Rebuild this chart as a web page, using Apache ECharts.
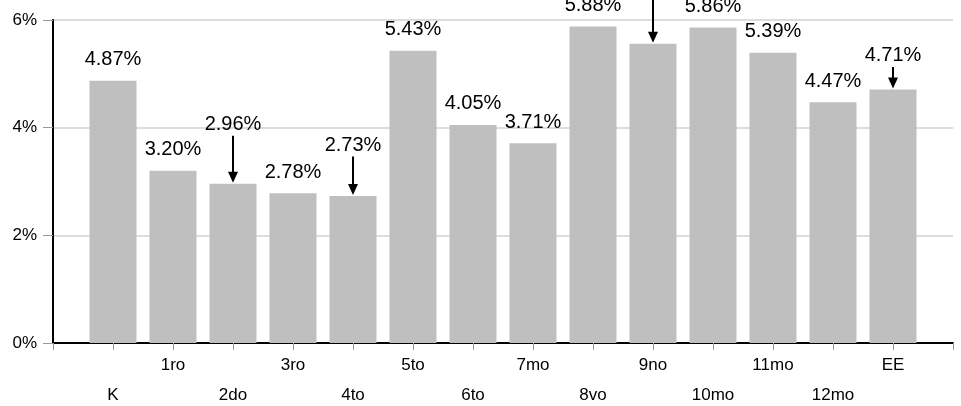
<!DOCTYPE html>
<html>
<head>
<meta charset="utf-8">
<script src="https://cdn.jsdelivr.net/npm/echarts@6/dist/echarts.min.js"></script>
<style>
html,body{margin:0;padding:0;background:#fff;}
#c{width:961px;height:406px;}
</style>
</head>
<body>
<div id="c"></div>
<script>
const categories = ['K','1ro','2do','3ro','4to','5to','6to','7mo','8vo','9no','10mo','11mo','12mo','EE'];
const values = [4.87, 3.20, 2.96, 2.78, 2.73, 5.43, 4.05, 3.71, 5.88, 5.56, 5.86, 5.39, 4.47, 4.71];
const yTicks = [0, 2, 4, 6];
// categories whose label is lifted and pointed to with an arrow
const arrowed = ['2do', '4to', '9no', 'EE'];
// style: label lift (px) for arrowed bars
const liftPx = {'2do': 49, '4to': 40.5, '9no': 56, 'EE': 23.5};

const FONT = '"Liberation Sans", Arial, Helvetica, sans-serif';
const axisCats = [''].concat(categories, ['']);

const barData = ['-'].concat(values.map((v, i) => {
  const c = categories[i];
  if (arrowed.indexOf(c) >= 0) {
    return {value: v, label: {distance: liftPx[c]}};
  }
  return v;
}), ['-']);

const arrowData = [];
categories.forEach((c, i) => {
  if (arrowed.indexOf(c) >= 0) arrowData.push([i + 1, values[i], liftPx[c]]);
});

const chart = echarts.init(document.getElementById('c'), null, {renderer: 'canvas'});
chart.setOption({
  animation: false,
  grid: {left: 53, right: 8, top: 20, bottom: 63, containLabel: false, outerBoundsMode: 'none'},
  xAxis: {
    type: 'category',
    data: axisCats,
    boundaryGap: false,
    axisLine: {lineStyle: {color: '#000', width: 2}},
    axisTick: {show: true, interval: 0, length: 7, lineStyle: {color: '#999', width: 1}},
    axisLabel: {
      interval: 0,
      margin: 7,
      color: '#000',
      fontSize: 17,
      fontFamily: FONT,
      lineHeight: 30,
      formatter: function (v, idx) {
        if (!v) return '';
        return idx % 2 === 1 ? '\n' + v : v;
      }
    },
    splitLine: {show: false}
  },
  yAxis: {
    type: 'value',
    min: yTicks[0],
    max: yTicks[yTicks.length - 1],
    interval: yTicks[1] - yTicks[0],
    axisLine: {show: true, lineStyle: {color: '#000', width: 2}},
    axisTick: {show: true, length: 10, lineStyle: {color: '#999', width: 1}},
    axisLabel: {
      margin: 16,
      color: '#000',
      fontSize: 17,
      fontFamily: FONT,
      formatter: '{value}%'
    },
    splitLine: {show: true, lineStyle: {color: '#dddddd', width: 2}}
  },
  series: [
    {
      type: 'bar',
      data: barData,
      barWidth: 47,
      itemStyle: {color: '#bfbfbf'},
      label: {
        show: true,
        position: 'top',
        distance: 11,
        color: '#000',
        fontSize: 20,
        fontFamily: FONT,
        formatter: function (p) { return p.value.toFixed(2) + '%'; }
      },
      z: 2
    },
    {
      type: 'custom',
      clip: false,
      z: 5,
      data: arrowData,
      renderItem: function (params, api) {
        const top = api.coord([api.value(0), api.value(1)]);
        const lift = api.value(2);
        const x = top[0];
        const yTip = top[1] - 1;
        const yStart = top[1] - lift + 1;
        const head = 11, hw = 5;
        return {
          type: 'group',
          children: [
            {type: 'line', shape: {x1: x, y1: yStart, x2: x, y2: yTip - head + 1},
             style: {stroke: '#000', lineWidth: 2}},
            {type: 'polygon', shape: {points: [[x - hw, yTip - head], [x + hw, yTip - head], [x, yTip]]},
             style: {fill: '#000'}}
          ]
        };
      }
    }
  ]
});
</script>
</body>
</html>
